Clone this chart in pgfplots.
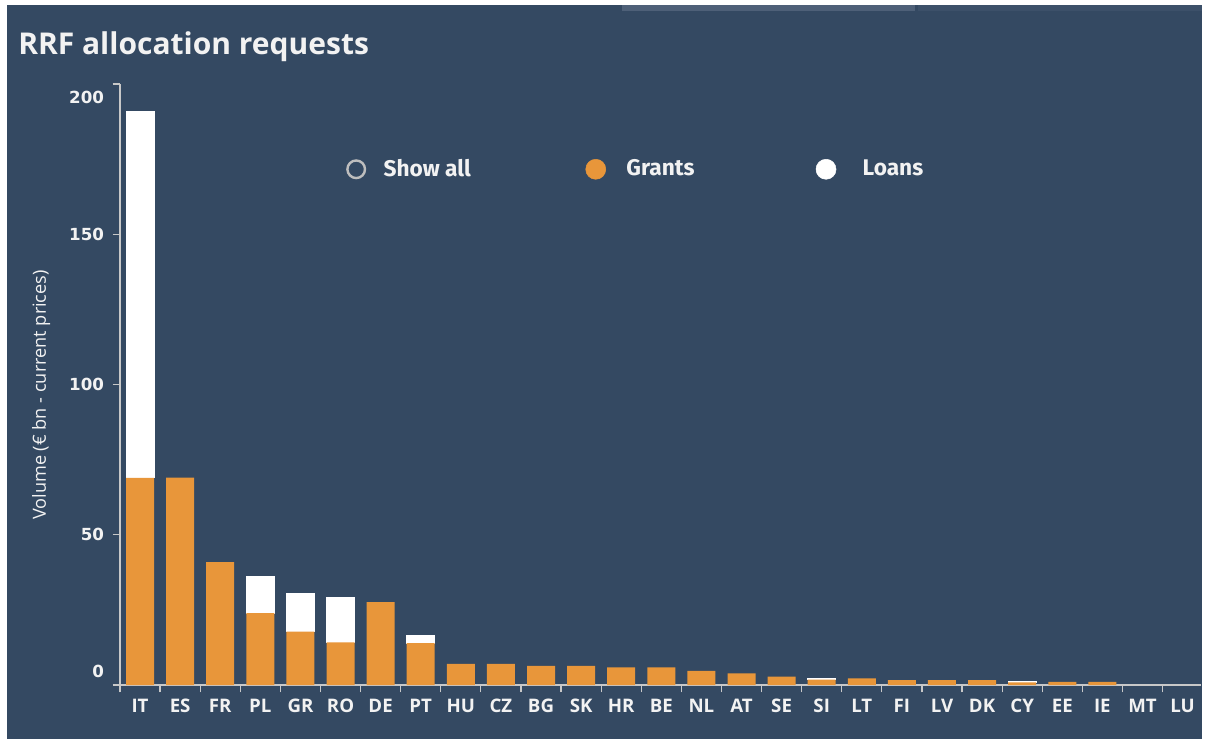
\documentclass[border=0pt]{standalone}
\usepackage{pgfplots}
\pgfplotsset{compat=1.18}
\usepackage{fontspec}
\setmainfont{Fira Sans}
\newfontfamily\numfont{DejaVu Sans}
\newfontfamily\catfont{Open Sans}
\definecolor{bg}{RGB}{52,73,98}
\definecolor{grant}{RGB}{232,150,58}
\definecolor{axgray}{RGB}{200,200,200}
\definecolor{txt}{RGB}{242,242,242}
\definecolor{tabA}{RGB}{78,96,120}
\definecolor{tabB}{RGB}{60,80,105}
\definecolor{ring}{RGB}{190,190,190}
\begin{document}
\begin{tikzpicture}[x=0.75pt,y=0.75pt]
\path[use as bounding box] (0,0) rectangle (1205,742);
\fill[white] (0,0) rectangle (1205,742);
\fill[bg] (7,3) rectangle (1202,737);
\fill[tabA] (622,731) rectangle (915,737);
\fill[tabB] (918,731) rectangle (1202,737);
\node[anchor=base west, text=txt, font=\catfont\bfseries\fontsize{22.5}{26}\selectfont, inner sep=0pt] at (18,687) {RRF allocation requests};
\begin{axis}[
  at={(90pt,42.75pt)}, anchor=south west,
  scale only axis, width=810.75pt, height=450.75pt,
  xmin=-0.5, xmax=26.46, ymin=0, ymax=200,
  ybar stacked, bar width=21pt,
  axis x line*=bottom, axis y line*=left,
  axis line style={-, axgray, line width=1pt},
  tick align=outside,
  major tick length=5.5pt,
  tick style={axgray, line width=0.9pt},
  xtick={-0.5,0.5,...,25.5}, xticklabels={},
  extra x ticks={0,1,...,26},
  extra x tick labels={IT,ES,FR,PL,GR,RO,DE,PT,HU,CZ,BG,SK,HR,BE,NL,AT,SE,SI,LT,FI,LV,DK,CY,EE,IE,MT,LU},
  extra x tick style={major tick length=0pt,
    xticklabel style={font=\catfont\bfseries\fontsize{14}{16}\selectfont, text=txt, yshift=-7pt}},
  ytick={0,50,100,150,200},
  yticklabels={\raisebox{20pt}{0},50,100,150,\raisebox{-30pt}{200}},
  yticklabel style={font=\numfont\bfseries\fontsize{12.5}{14}\selectfont, text=txt, xshift=-3pt},
  ylabel={Volume (€ bn - current prices)},
  every axis y label/.style={at={(axis description cs:-0.073,0.4825)}, rotate=90, anchor=center,
    font=\catfont\fontsize{13.6}{15}\selectfont, text=txt},
  legend columns=3,
  legend style={at={(axis description cs:0.2053,0.859)}, anchor=west, draw=none, fill=none,
    text=txt, font=\bfseries\fontsize{17}{20}\selectfont,
    /tikz/every even column/.append style={column sep=86pt},
    nodes={inner xsep=0pt}},
]
\addlegendimage{legend image code/.code={\draw[ring, line width=1.8pt] (7.5pt,-0.4pt) circle (6.6pt); \path[draw=none, fill=none] (0,0) -- (28pt,0);}}
\addlegendentry{Show all}
\addlegendimage{legend image code/.code={\fill[grant] (7.5pt,-0.4pt) circle (7.5pt); \path[draw=none, fill=none] (0,0) -- (30.5pt,0);}}
\addlegendentry{\makebox[56pt][l]{Grants}}
\addlegendimage{legend image code/.code={\fill[white] (7.5pt,-0.4pt) circle (7.5pt); \path[draw=none, fill=none] (0,0) -- (35pt,0);}}
\addlegendentry{Loans}
% Grants
\addplot[fill=grant, draw=none] coordinates {
(0,68.9) (1,69.0) (2,40.9) (3,23.9) (4,17.8) (5,14.2) (6,27.6) (7,13.9) (8,7.0) (9,7.0)
(10,6.4) (11,6.4) (12,5.9) (13,5.9) (14,4.7) (15,3.9) (16,2.8) (17,1.8) (18,2.2) (19,1.6)
(20,1.6) (21,1.6) (22,0.9) (23,1.0) (24,1.0) (25,0) (26,0) };
% Loans
\addplot[fill=white, draw=white, line width=0.8pt] coordinates {
(0,121.8) (1,0) (2,0) (3,12.1) (4,12.7) (5,14.9) (6,0) (7,2.7) (8,0) (9,0)
(10,0) (11,0) (12,0) (13,0) (14,0) (15,0) (16,0) (17,0.4) (18,0) (19,0)
(20,0) (21,0) (22,0.1) (23,0) (24,0) (25,0) (26,0) };
\end{axis}
\end{tikzpicture}
\end{document}
